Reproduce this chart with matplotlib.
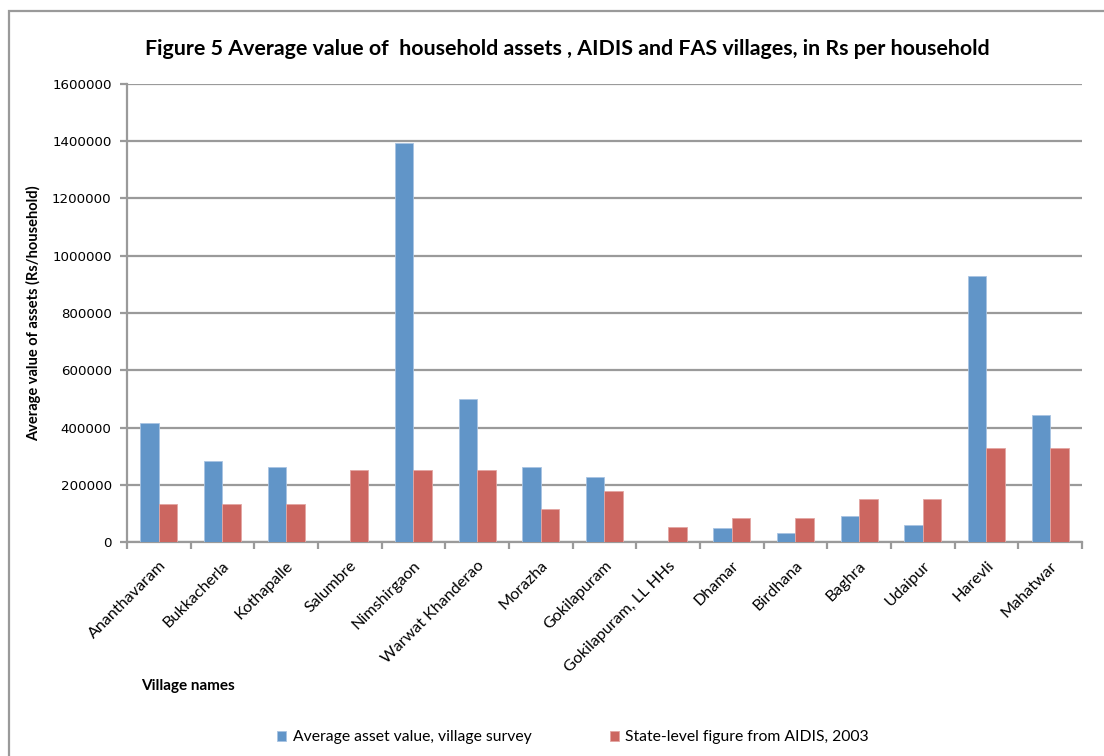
import matplotlib.pyplot as plt
import matplotlib.patches as mpatches
import numpy as np

villages = ['Ananthavaram', 'Bukkacherla', 'Kothapalle', 'Salumbre', 'Nimshirgaon',
            'Warwat Khanderao', 'Morazha', 'Gokilapuram', 'Gokilapuram, LL HHs',
            'Dhamar', 'Birdhana', 'Baghra', 'Udaipur', 'Harevli', 'Mahatwar']
survey_avg = [415000, 283000, 262000, 0, 1393000, 500000, 262000, 228000, 0,
              47500, 30000, 91000, 60500, 930000, 445000]
aidis_2003 = [134000, 134000, 134000, 250000, 250000, 250000, 116000, 180000, 52000,
              82500, 82500, 150000, 150000, 330000, 330000]
yticks = [0, 200000, 400000, 600000, 800000, 1000000, 1200000, 1400000, 1600000]

blue = '#6195c8'
red = '#cc6660'
grey = '#9a9a9a'
txt_font = ['Lato', 'DejaVu Sans']

fig = plt.figure(figsize=(11.04, 7.56), dpi=100)
ax = fig.add_axes([0.115, 0.283, 0.865, 0.606])

x = np.arange(len(villages))
w = 0.29
ax.bar(x - w / 2, survey_avg, w, color=blue, edgecolor='#a9c4e2', linewidth=0.6,
       label='Average asset value, village survey', zorder=3)
ax.bar(x + w / 2, aidis_2003, w, color=red, edgecolor='#e3a6a3', linewidth=0.6,
       label='State-level figure from AIDIS, 2003', zorder=3)

ax.set_xlim(-0.5, len(villages) - 0.5)
ax.set_ylim(0, 1600000)
ax.set_yticks(yticks)
ax.set_yticklabels([str(v) for v in yticks], fontsize=9.6, family='DejaVu Sans')
ax.yaxis.grid(True, color=grey, linewidth=1.6, zorder=0)
ax.set_axisbelow(True)

# category boundary ticks on the x axis, names placed at group centres
ax.set_xticks(np.arange(len(villages) + 1) - 0.5)
ax.set_xticklabels([])
ax.set_xticks(x, minor=True)
ax.set_xticklabels(villages, minor=True, rotation=45, ha='right', va='top',
                   rotation_mode='anchor', fontsize=11.6, family=txt_font)
ax.tick_params(axis='x', which='minor', length=0, pad=12)
ax.tick_params(axis='x', which='major', length=5, width=1.6, color=grey)
ax.tick_params(axis='y', length=5, width=1.6, color=grey, pad=6)

for side in ['top', 'right']:
    ax.spines[side].set_visible(False)
for side in ['left', 'bottom']:
    ax.spines[side].set_color(grey)
    ax.spines[side].set_linewidth(1.6)

ax.set_ylabel('Average value of assets (Rs/household)', fontsize=10.5,
              fontweight='bold', family=txt_font, labelpad=8)
fig.text(0.128, 0.093, 'Village names', fontsize=11, fontweight='bold',
         family=txt_font, va='center')

fig.suptitle('Figure 5 Average value of  household assets , AIDIS and FAS villages, in Rs per household',
             x=0.514, y=0.948, fontsize=15.4, fontweight='bold', family=txt_font)

fig.legend(loc='center', bbox_to_anchor=(0.519, 0.025), ncol=2, frameon=False,
           prop={'family': txt_font, 'size': 11.3}, handlelength=0.6,
           handleheight=0.6, handletextpad=0.4, columnspacing=5.0)

# outer chart frame
fig.add_artist(mpatches.Rectangle((0.0086, -0.05), 1.1, 1.0354, transform=fig.transFigure,
                                  fill=False, edgecolor=grey, linewidth=1.6))

fig.savefig('out.png', dpi=100)
